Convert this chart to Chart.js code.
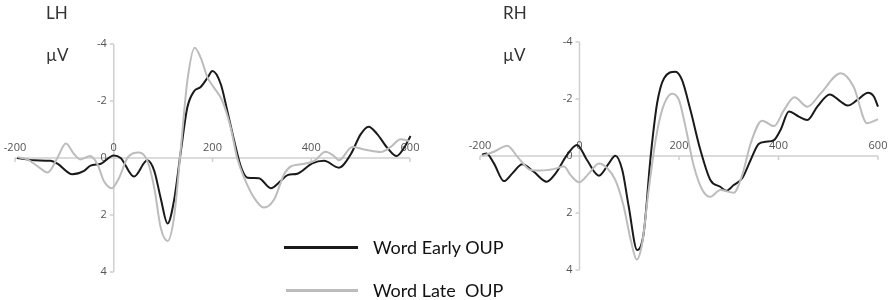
<!DOCTYPE html>
<html lang="en">
<head>
    <meta charset="UTF-8">
    <title>LH / RH ERP</title>
    <style>
        * { margin: 0; padding: 0; box-sizing: border-box; }
        body { width: 892px; height: 300px; background: #fff; position: relative; overflow: hidden; font-family: Lato, "Noto Sans", sans-serif; color: #222; }
        canvas { position: absolute; top: 0; }
        .lbl { position: absolute; font-size: 17px; color: #333; white-space: pre; }
        .key { position: absolute; height: 3px; }
    </style>
    <script src="https://cdn.jsdelivr.net/npm/chart.js"></script>
</head>
<body>
    <canvas id="lhChart" width="446" height="300" style="left:0"></canvas>
    <canvas id="rhChart" width="446" height="300" style="left:446px"></canvas>

    <div class="lbl" style="left:46px; top:2px;">LH</div>
    <div class="lbl" style="left:46px; top:44px;">µV</div>
    <div class="lbl" style="left:503px; top:2px;">RH</div>
    <div class="lbl" style="left:503px; top:44px;">µV</div>

    <div class="key" style="left:284px; top:246px; width:74px; background:#1a1a1a;"></div>
    <div class="lbl" style="left:373px; top:236px; font-size:18px; color:#111;">Word Early OUP</div>
    <div class="key" style="left:286px; top:289px; width:72px; background:#bcbcbc;"></div>
    <div class="lbl" style="left:373px; top:279px; font-size:18px; color:#111;">Word Late  OUP</div>

    <script>
        // axis ticks
        const xTicks = [-200, 0, 200, 400, 600];
        const yTicks = [-4, -2, 0, 2, 4];

        // LH, Word Early OUP (ms, µV)
        const lhEarlyT = [-196, -161, -128, -114, -84, -60, -47, -26, 0, 14, 41, 68, 82, 95, 109, 122, 136, 149, 163, 176, 190, 200, 217, 230, 244, 257, 271, 294, 318, 338, 352, 372, 402, 426, 456, 480, 500, 516, 534, 554, 573, 588, 601];
        const lhEarlyV = [0, 0.08, 0.1, 0.2, 0.57, 0.45, 0.27, 0.2, -0.09, 0, 0.65, 0.08, 0.45, 1.4, 2.3, 1.5, -0.25, -1.77, -2.35, -2.49, -2.82, -3.05, -2.58, -1.65, -0.6, 0.28, 0.69, 0.71, 1.06, 0.81, 0.6, 0.55, 0.19, 0.1, 0.34, -0.13, -0.83, -1.1, -0.83, -0.36, -0.07, -0.36, -0.77];

        // LH, Word Late OUP
        const lhLateT = [-195, -175, -155, -134, -114, -97, -80, -67, -48, -33, -20, -4, 11, 28, 51, 68, 82, 95, 109, 122, 136, 149, 164, 176, 190, 203, 220, 237, 250, 264, 284, 304, 325, 345, 358, 379, 406, 429, 446, 456, 483, 507, 541, 561, 581, 598];
        const lhLateV = [-0.03, 0.05, 0.28, 0.51, -0.01, -0.51, -0.13, 0.05, -0.07, 0.22, 0.81, 1.06, 0.69, -0.01, -0.19, 0.1, 1.04, 2.44, 2.91, 2.09, -0.36, -2.7, -3.87, -3.52, -2.82, -2.47, -2.0, -1.06, 0, 0.69, 1.39, 1.74, 1.45, 0.57, 0.3, 0.22, 0.1, -0.22, -0.07, 0.08, -0.39, -0.3, -0.21, -0.39, -0.66, -0.6];

        // RH, Word Early OUP
        const rhEarlyT = [-196, -187, -172, -152, -135, -115, -92, -66, -48, -25, -5, 15, 39, 59, 72, 86, 99, 116, 129, 143, 156, 170, 193, 206, 223, 243, 263, 283, 295, 310, 327, 344, 360, 374, 391, 404, 421, 441, 458, 478, 503, 525, 539, 558, 580, 592, 600];
        const rhEarlyV = [-0.04, -0.09, 0.26, 0.88, 0.61, 0.29, 0.55, 0.9, 0.61, -0.04, -0.39, 0.14, 0.69, 0.26, -0.01, 0.49, 1.78, 3.3, 2.71, 0.02, -1.85, -2.73, -2.96, -2.67, -1.61, -0.21, 0.84, 1.08, 1.22, 1.02, 0.78, 0.14, -0.42, -0.5, -0.56, -0.91, -1.56, -1.38, -1.26, -1.73, -2.16, -1.91, -1.77, -1.96, -2.22, -2.08, -1.73];

        // RH, Word Late OUP
        const rhLateT = [-196, -172, -145, -125, -98, -78, -52, -31, -18, -1, 19, 39, 56, 72, 89, 103, 115, 126, 139, 153, 166, 186, 200, 213, 230, 247, 263, 283, 310, 327, 344, 367, 391, 411, 432, 458, 485, 525, 551, 578, 600];
        const rhLateV = [0, -0.15, -0.36, 0.02, 0.49, 0.51, 0.46, 0.37, 0.67, 0.92, 0.61, 0.26, 0.43, 0.84, 1.78, 2.95, 3.63, 3.06, 1.19, -0.56, -1.61, -2.18, -1.96, -1.03, 0.37, 1.19, 1.43, 1.19, 1.29, 0.67, -0.44, -1.24, -1.05, -1.61, -2.06, -1.73, -2.2, -2.9, -2.43, -1.15, -1.29];

        const toPoints = (t, v) => t.map((x, i) => ({ x: x, y: v[i] }));

        // draws the cross axes through (0, 0) like the original figure
        const crossAxes = {
            id: 'crossAxes',
            beforeDatasetsDraw(chart) {
                const ctx = chart.ctx;
                const xs = chart.scales.x, ys = chart.scales.y;
                const x0 = xs.getPixelForValue(0), y0 = ys.getPixelForValue(0);
                ctx.save();
                ctx.strokeStyle = '#cfcfcf';
                ctx.lineWidth = 1.5;
                ctx.beginPath();
                ctx.moveTo(xs.getPixelForValue(xTicks[0]), y0);
                ctx.lineTo(xs.getPixelForValue(xTicks[xTicks.length - 1]), y0);
                ctx.moveTo(x0, ys.getPixelForValue(yTicks[0]));
                ctx.lineTo(x0, ys.getPixelForValue(yTicks[yTicks.length - 1]));
                xTicks.forEach(t => {
                    const px = xs.getPixelForValue(t);
                    ctx.moveTo(px, y0);
                    ctx.lineTo(px, y0 + 4);
                });
                yTicks.forEach(t => {
                    const py = ys.getPixelForValue(t);
                    ctx.moveTo(x0 - 4, py);
                    ctx.lineTo(x0, py);
                });
                ctx.stroke();

                ctx.fillStyle = '#555';
                ctx.font = '11px "Open Sans", sans-serif';
                ctx.textAlign = 'center';
                ctx.textBaseline = 'alphabetic';
                xTicks.forEach(t => ctx.fillText(String(t), xs.getPixelForValue(t), y0 - 7));
                ctx.textAlign = 'right';
                ctx.textBaseline = 'middle';
                yTicks.forEach(t => ctx.fillText(String(t), x0 - 7, ys.getPixelForValue(t)));
                ctx.restore();
            }
        };

        function makeChart(id, early, late, pad) {
            return new Chart(document.getElementById(id), {
                type: 'line',
                data: {
                    datasets: [
                        { label: 'Word Late  OUP', data: late, borderColor: '#bcbcbc', borderWidth: 2 },
                        { label: 'Word Early OUP', data: early, borderColor: '#1a1a1a', borderWidth: 2 }
                    ]
                },
                options: {
                    responsive: false,
                    animation: false,
                    devicePixelRatio: 1,
                    layout: { padding: pad },
                    elements: { point: { radius: 0 }, line: { cubicInterpolationMode: 'monotone', fill: false } },
                    clip: false,
                    scales: {
                        x: { type: 'linear', min: -200, max: 600, display: false },
                        y: { min: -4, max: 4, reverse: true, display: false }
                    },
                    plugins: { legend: { display: false }, tooltip: { enabled: false } }
                },
                plugins: [crossAxes]
            });
        }

        makeChart('lhChart', toPoints(lhEarlyT, lhEarlyV), toPoints(lhLateT, lhLateV),
            { left: 15, right: 36, top: 44, bottom: 28 });
        makeChart('rhChart', toPoints(rhEarlyT, rhEarlyV), toPoints(rhLateT, rhLateV),
            { left: 34, right: 14, top: 42, bottom: 30 });
    </script>
</body>
</html>
